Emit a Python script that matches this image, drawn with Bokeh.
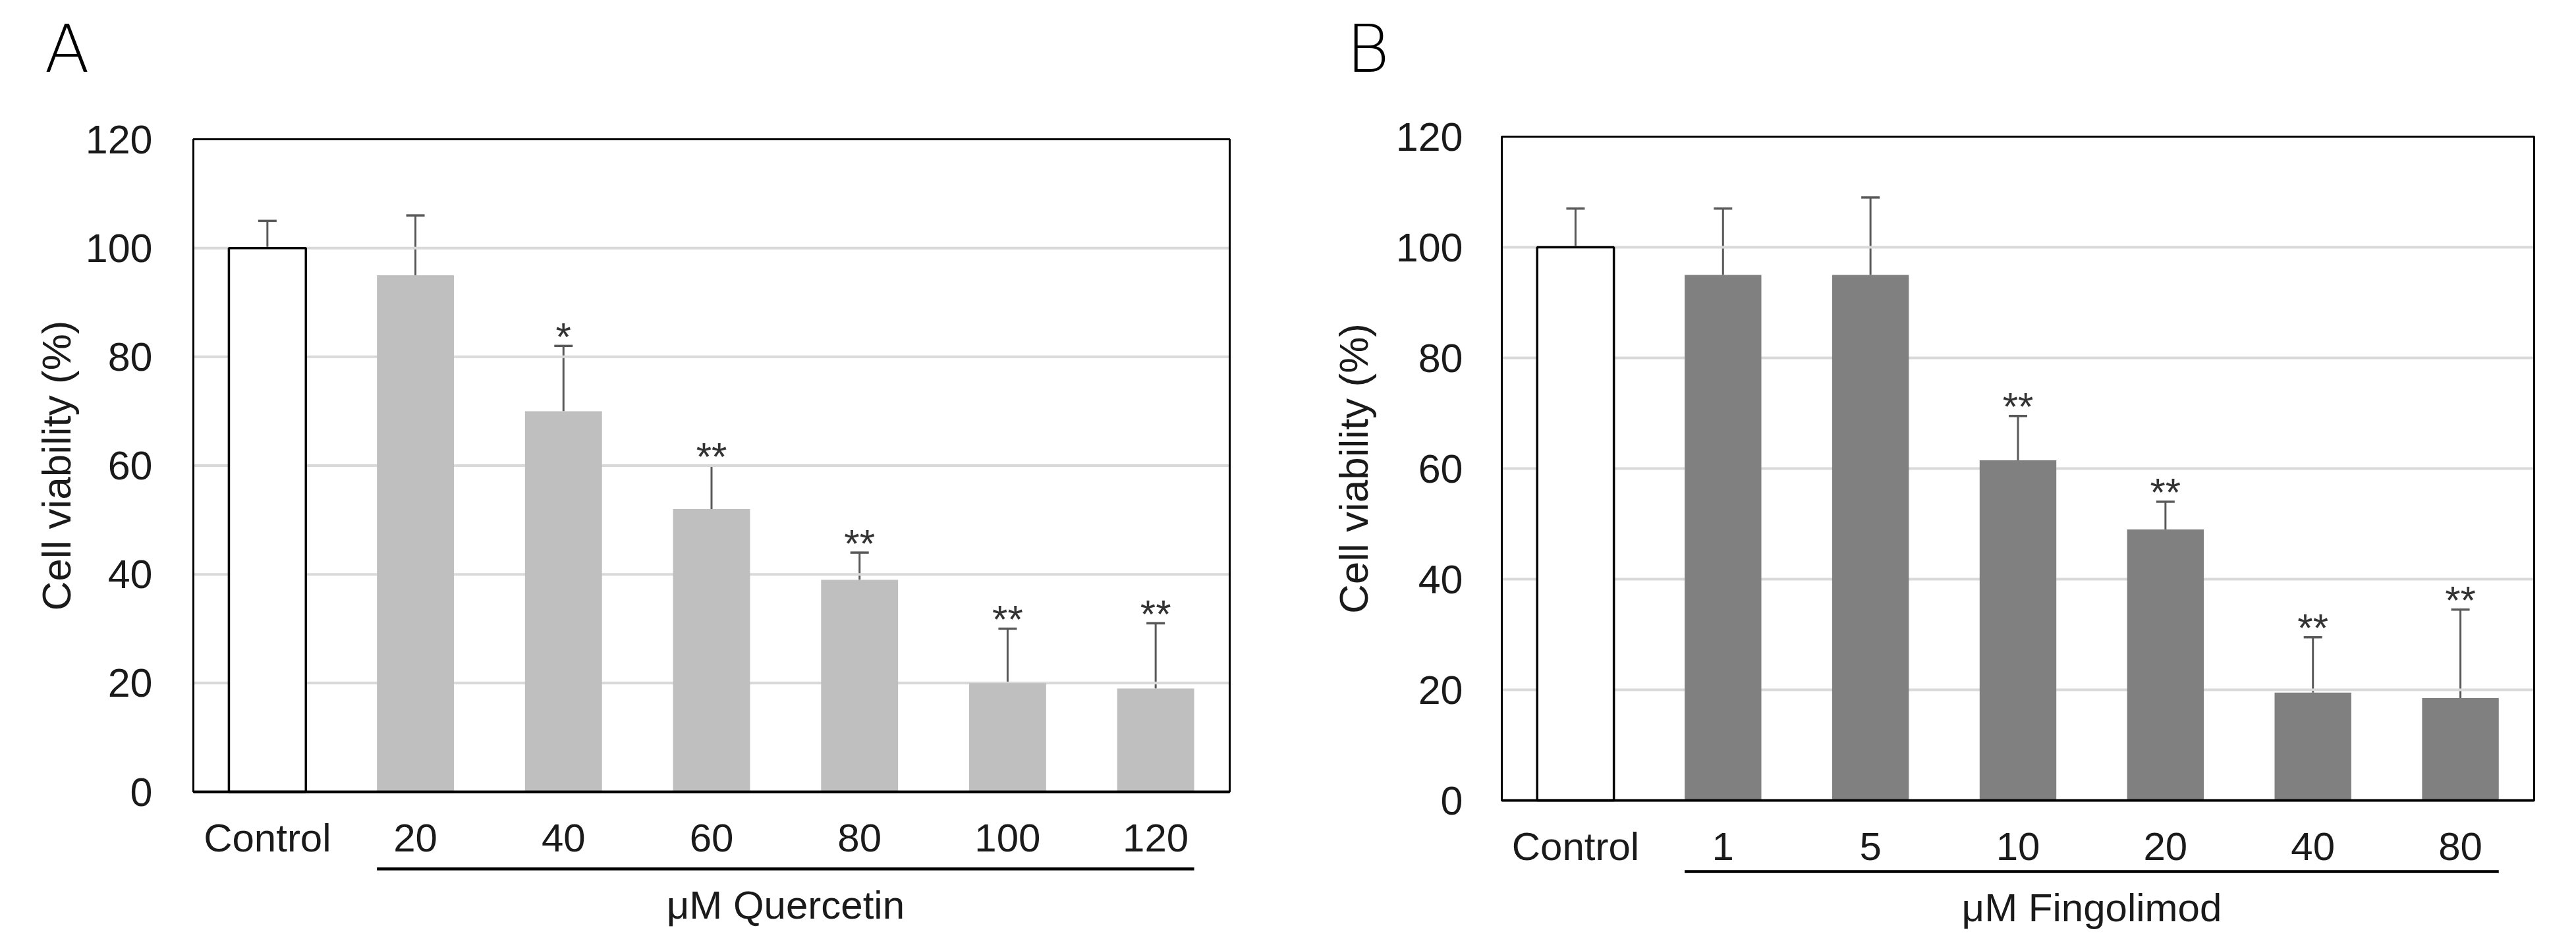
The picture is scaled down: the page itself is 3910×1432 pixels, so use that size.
import numpy as np
from bokeh.plotting import figure
from bokeh.models import (Range1d, ColumnDataSource, Whisker, TeeHead,
                          FixedTicker, CustomJSTickFormatter)
from bokeh.layouts import row
from bokeh.core.properties import value
from bokeh.embed import file_html
from bokeh.resources import INLINE

# ---------------- data ----------------
A_categories = ["Control", "20", "40", "60", "80", "100", "120"]
A_means = [100, 95, 70, 52, 39, 20, 19]
A_sd = [5, 11, 12, 8, 5, 10, 12]
A_stars = ["", "", "*", "**", "**", "**", "**"]
A_group = "\u03bcM Quercetin"

B_categories = ["Control", "1", "5", "10", "20", "40", "80"]
B_means = [100, 95, 95, 61.5, 49, 19.5, 18.5]
B_sd = [7, 12, 14, 8, 5, 10, 16]
B_stars = ["", "", "", "**", "**", "**", "**"]
B_group = "\u03bcM Fingolimod"

y_ticks = [0, 20, 40, 60, 80, 100, 120]
y_label = "Cell viability (%)"

FONT = "Liberation Sans"
LETTER_FONT = "DejaVu Sans"
BAR_W = 0.52
TXT = "#1a1a1a"


def make_panel(letter, cats, means, sds, stars, bar_color, group_title,
               width, height, box, letter_px, ylab_px, bracket_px, title_px,
               ytick_standoff, xtick_standoff):
    # box = plot-box edges in figure pixels (left, right, top, bottom)
    bl, br, bt, bb = box
    n = len(cats)
    ymin, ymax = y_ticks[0], y_ticks[-1]
    ppx = (br - bl) / n
    ppu = (bb - bt) / (ymax - ymin)
    x_rng = Range1d(-bl / ppx, n + (width - br) / ppx)
    y_rng = Range1d(ymin - (height - bb) / ppu, ymax + bt / ppu)

    p = figure(width=width, height=height, x_range=x_rng, y_range=y_rng,
               output_backend="svg", toolbar_location=None,
               min_border_left=0, min_border_right=0,
               min_border_top=0, min_border_bottom=0)
    p.background_fill_color = "white"
    p.border_fill_color = "white"
    p.outline_line_color = None
    p.xgrid.visible = False
    p.ygrid.visible = False

    centers = np.arange(n) + 0.5

    # horizontal grid lines
    gt = np.array(y_ticks[1:-1], dtype=float)
    p.segment(x0=np.zeros_like(gt), y0=gt, x1=np.full_like(gt, n), y1=gt,
              line_color="#d9d9d9", line_width=4)

    # y axis (inside the canvas, at x = 0)
    ya = p.yaxis[0]
    ya.fixed_location = 0
    ya.bounds = (ymin, ymax)
    ya.ticker = FixedTicker(ticks=y_ticks)
    ya.major_tick_in = 0
    ya.major_tick_out = 0
    ya.minor_tick_line_color = None
    ya.axis_line_color = "black"
    ya.axis_line_width = 3
    ya.major_label_standoff = ytick_standoff
    ya.major_label_text_font = FONT
    ya.major_label_text_font_size = "61px"
    ya.major_label_text_color = TXT

    # x axis with category labels (at y = 0)
    xa = p.xaxis[0]
    xa.fixed_location = 0
    xa.bounds = (0, n)
    xa.ticker = FixedTicker(ticks=list(centers))
    xa.formatter = CustomJSTickFormatter(args=dict(labels=cats),
                                         code="return labels[Math.floor(tick)];")
    xa.major_tick_in = 0
    xa.major_tick_out = 0
    xa.minor_tick_line_color = None
    xa.axis_line_color = "black"
    xa.axis_line_width = 4
    xa.major_label_standoff = xtick_standoff
    xa.major_label_text_font = FONT
    xa.major_label_text_font_size = "60px"
    xa.major_label_text_color = TXT

    means = np.array(means, dtype=float)
    sds = np.array(sds, dtype=float)
    err = means + sds
    src = ColumnDataSource(dict(
        x=centers, top=means, err=err, stars=stars,
        star_y=err + 14.0 / ppu,
        fill=["white"] + [bar_color] * (n - 1),
        lalpha=[1.0] + [0.0] * (n - 1),
    ))

    p.vbar(x="x", top="top", bottom=ymin, width=BAR_W, source=src,
           fill_color="fill", line_color="black", line_alpha="lalpha", line_width=3.5)

    # plot box (top and right edges; left/bottom are the axes)
    p.quad(left=[0], right=[n], bottom=[ymin], top=[ymax], fill_color=None,
           line_color="black", line_width=3)

    w = Whisker(source=src, base="x", lower="top", upper="err", dimension="height",
                line_color="#595959", line_width=3, lower_head=None,
                upper_head=TeeHead(size=28, line_color="#595959", line_width=3.5))
    p.add_layout(w)

    p.text(x="x", y="star_y", text="stars", source=src,
           text_font=value(FONT), text_font_size="60px", text_color="#333333",
           text_align="center", text_baseline="alphabetic")

    # bracket under the treatment groups + group title
    x0 = centers[1] - BAR_W / 2
    x1 = centers[-1] + BAR_W / 2
    yb = ymin - bracket_px / ppu
    p.segment(x0=[x0], y0=[yb], x1=[x1], y1=[yb], line_color="black", line_width=4.5)
    p.text(x=[(x0 + x1) / 2], y=[ymin - title_px / ppu], text=[group_title],
           text_font=value(FONT), text_font_size="60px", text_color=TXT,
           text_align="center", text_baseline="alphabetic")

    # y axis title
    p.text(x=[ylab_px / ppx], y=[(ymin + ymax) / 2], text=[y_label], angle=np.pi / 2,
           text_font=value(FONT), text_font_size="62px", text_color=TXT,
           text_align="center", text_baseline="alphabetic")

    # panel letter
    p.text(x=[letter_px[0] / ppx], y=[ymax + letter_px[1] / ppu], text=[letter],
           text_font=value(LETTER_FONT), text_font_size="100px",
           text_color="black", text_align="left", text_baseline="alphabetic")
    return p


pA = make_panel("A", A_categories, A_means, A_sd, A_stars, "#bfbfbf", A_group,
                1947, 1416, (293, 1866, 211, 1202), (-226, 137), -208, 117, 172, 62, 36)
pB = make_panel("B", B_categories, B_means, B_sd, B_stars, "#808080", B_group,
                1947, 1416, (332, 1899, 207, 1215), (-236, 133), -225, 108, 163, 59, 36)

layout = row(pA, pB)
open("out.html", "w").write(file_html(layout, INLINE))
